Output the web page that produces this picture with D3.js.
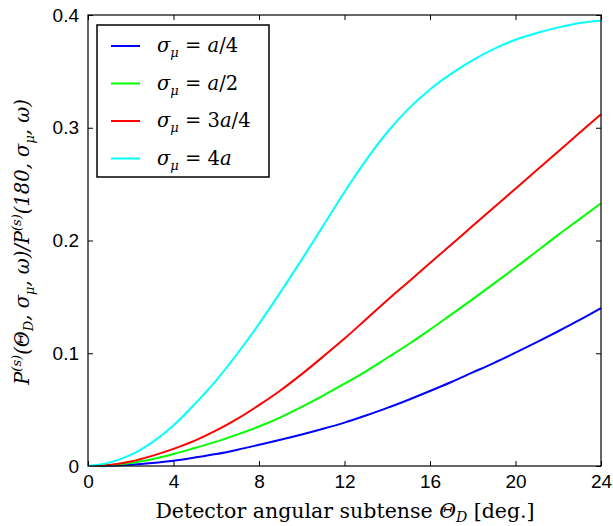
<!DOCTYPE html>
<html>
<head>
<meta charset="utf-8">
<script src="https://cdn.jsdelivr.net/npm/d3@7"></script>
<style>
  body { margin: 0; background: #fff; }
  svg { display: block; }
  .tick text { font-family: "Liberation Sans", Arial, sans-serif; font-size: 19px; fill: #000; }
</style>
</head>
<body>
<svg id="chart" width="613" height="526"></svg>
<script>
const serif = "DejaVu Serif";

// detector angular subtense, deg.
const theta = d3.range(0, 25);

const quarterA = [0, 0.0003, 0.0012, 0.0027, 0.0047, 0.0075, 0.0106, 0.0145, 0.0188, 0.0232, 0.0279, 0.033, 0.0385,
  0.0448, 0.0515, 0.0588, 0.0665, 0.0745, 0.083, 0.0915, 0.1005, 0.1098, 0.1195, 0.1295, 0.140];
const halfA = [0, 0.0007, 0.0027, 0.006, 0.0106, 0.016, 0.0216, 0.028, 0.035, 0.0432, 0.0525, 0.0625, 0.073,
  0.084, 0.096, 0.108, 0.121, 0.1345, 0.148, 0.162, 0.176, 0.1905, 0.205, 0.219, 0.233];
const threeQuarterA = [0, 0.001, 0.004, 0.009, 0.0152, 0.0225, 0.0315, 0.042, 0.054, 0.067, 0.0815, 0.097, 0.113,
  0.130, 0.147, 0.1635, 0.180, 0.1965, 0.213, 0.2295, 0.246, 0.2625, 0.279, 0.2955, 0.312];
const fourA = [0, 0.003, 0.0098, 0.021, 0.036, 0.055, 0.076, 0.100, 0.126, 0.154, 0.183, 0.213, 0.243,
  0.271, 0.296, 0.317, 0.334, 0.348, 0.360, 0.370, 0.378, 0.384, 0.389, 0.393, 0.395];

const xTicks = [0, 4, 8, 12, 16, 20, 24];
const yTicks = [0, 0.1, 0.2, 0.3, 0.4];

const series = [
  { values: quarterA, color: "#0000ff", num: "", den: "4" },
  { values: halfA, color: "#00ff00", num: "", den: "2" },
  { values: threeQuarterA, color: "#ff0000", num: "3", den: "4" },
  { values: fourA, color: "#00ffff", num: "4", den: null }
];

const svg = d3.select("#chart");
const margin = { top: 15, right: 12, bottom: 60, left: 88 };
const W = 613, H = 526;

const x = d3.scaleLinear().domain([0, 24]).range([margin.left, W - margin.right]);
const y = d3.scaleLinear().domain([0, 0.4]).range([H - margin.bottom, margin.top]);

const fmt = d => d === 0 ? "0" : d3.format(".1f")(d);

// axes, ticks pointing inward
svg.append("g").attr("transform", `translate(0,${y(0)})`)
  .call(d3.axisBottom(x).tickValues(xTicks).tickSizeInner(-5).tickSizeOuter(0).tickPadding(9))
  .call(g => g.select(".domain").remove());
svg.append("g").attr("transform", `translate(${x(0)},0)`)
  .call(d3.axisLeft(y).tickValues(yTicks).tickFormat(fmt).tickSizeInner(-5).tickSizeOuter(0).tickPadding(9))
  .call(g => g.select(".domain").remove());
svg.append("g").attr("transform", `translate(0,${y(0.4)})`)
  .call(d3.axisTop(x).tickValues(xTicks).tickSizeInner(-5).tickSizeOuter(0).tickFormat(""))
  .call(g => g.select(".domain").remove());
svg.append("g").attr("transform", `translate(${x(24)},0)`)
  .call(d3.axisRight(y).tickValues(yTicks).tickSizeInner(-5).tickSizeOuter(0).tickFormat(""))
  .call(g => g.select(".domain").remove());
svg.selectAll(".tick line").attr("stroke", "#000");

// curves
const line = d3.line().x((d, i) => x(theta[i])).y(d => y(d)).curve(d3.curveMonotoneX);
svg.append("g").selectAll("path").data(series).join("path")
  .attr("d", d => line(d.values))
  .attr("fill", "none")
  .attr("stroke", d => d.color)
  .attr("stroke-width", 2);

// frame
svg.append("rect")
  .attr("x", x(0)).attr("y", y(0.4))
  .attr("width", x(24) - x(0)).attr("height", y(0) - y(0.4))
  .attr("fill", "none").attr("stroke", "#000").attr("stroke-width", 1.2);

// legend
const leg = svg.append("g");
leg.append("rect").attr("x", 97).attr("y", 25).attr("width", 172).attr("height", 152)
  .attr("fill", "#fff").attr("stroke", "#000").attr("stroke-width", 1.5);
series.forEach((s, i) => {
  const ly = 46 + i * 37.5;
  leg.append("line").attr("x1", 111).attr("x2", 140).attr("y1", ly).attr("y2", ly)
    .attr("stroke", s.color).attr("stroke-width", 2);
  const t = leg.append("text").attr("font-family", serif).attr("x", 157).attr("y", ly + 6)
    .attr("font-size", 19.5);
  t.append("tspan").attr("font-style", "italic").text("σ");
  t.append("tspan").attr("font-style", "italic").attr("font-size", 13).attr("dy", 5).text("μ");
  t.append("tspan").attr("dy", -5).text(" = " + s.num);
  t.append("tspan").attr("font-style", "italic").text("a");
  if (s.den) t.append("tspan").text("/" + s.den);
});

// x axis title
const xt = svg.append("text").attr("font-family", serif).attr("x", 345).attr("y", 518)
  .attr("text-anchor", "middle").attr("font-size", 20.5);
xt.append("tspan").text("Detector angular subtense ");
xt.append("tspan").attr("font-style", "italic").text("Θ");
xt.append("tspan").attr("font-style", "italic").attr("font-size", 14).attr("dy", 4).text("D");
xt.append("tspan").attr("dy", -4).text(" [deg.]");

// y axis title
const yt = svg.append("text").attr("font-family", serif)
  .attr("transform", "translate(29,242) rotate(-90)")
  .attr("text-anchor", "middle").attr("font-size", 19.5).attr("font-style", "italic");
const pieces = [
  ["P", 0, 19.5], ["(s)", -8, 13], ["(Θ", 8, 19.5], ["D", 4, 13], [", σ", -4, 19.5], ["μ", 5, 13],
  [", ω)/P", -5, 19.5], ["(s)", -8, 13], ["(180, σ", 8, 19.5], ["μ", 5, 13], [", ω)", -5, 19.5]
];
pieces.forEach(([txt, dy, fs]) => yt.append("tspan").attr("dy", dy).attr("font-size", fs).text(txt));
</script>
</body>
</html>
